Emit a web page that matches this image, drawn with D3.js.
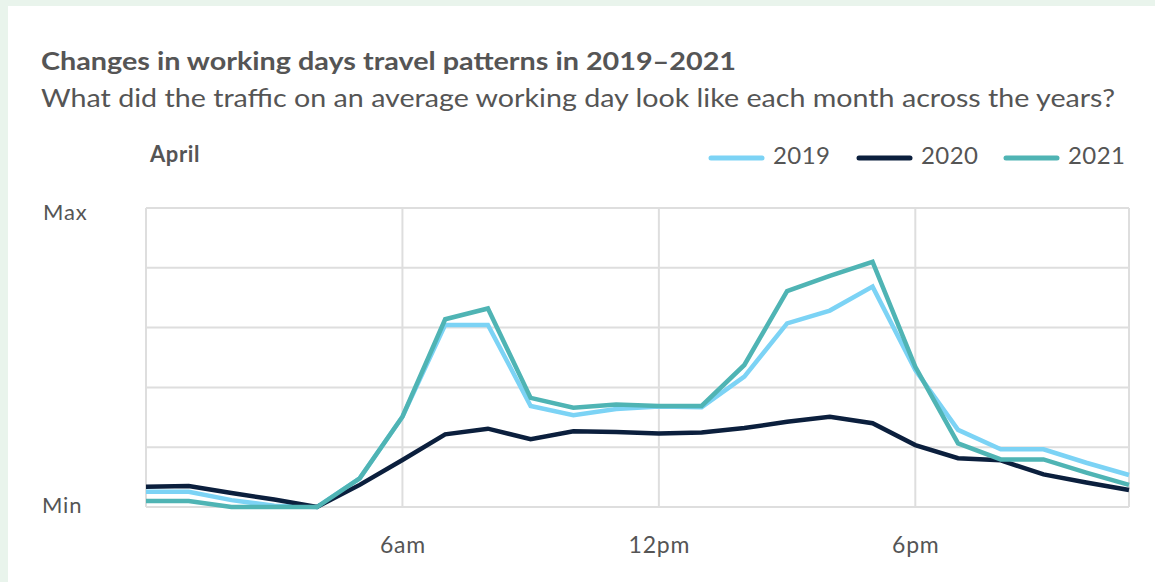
<!DOCTYPE html>
<html>
<head>
<meta charset="utf-8">
<script src="https://cdn.jsdelivr.net/npm/d3@7"></script>
<style>
  html, body { margin: 0; padding: 0; background: #e9f4ec; }
  svg { display: block; }
  text { font-family: Lato, "Open Sans", sans-serif; fill: #555; }
</style>
</head>
<body>
<svg id="chart" width="1155" height="582"></svg>
<script>
// Hours of the day (0 = midnight)
const hours = [0, 1, 2, 3, 4, 5, 6, 7, 8, 9, 10, 11, 12, 13, 14, 15, 16, 17, 18, 19, 20, 21, 22, 23];

// Relative traffic level (0 = Min, 100 = Max) for an average April working day
const traffic2019 = [5.1, 5.1, 2.3, 0.4, 0, 9.6, 30.2, 60.9, 60.9, 33.8, 30.7, 32.8, 33.6, 33.4, 43.6, 61.4, 65.7, 73.7, 45.8, 25.8, 19.3, 19.3, 14.8, 10.7];
const traffic2020 = [6.8, 7.0, 4.7, 2.5, 0, 7.4, 15.7, 24.3, 26.2, 22.7, 25.3, 25.1, 24.6, 24.9, 26.4, 28.5, 30.2, 28.0, 20.7, 16.3, 15.6, 10.9, 8.2, 5.7];
const traffic2021 = [2.0, 2.0, 0, 0, 0, 9.6, 30.2, 62.8, 66.4, 36.5, 33.2, 34.3, 33.8, 33.8, 47.5, 72.2, 77.3, 82.0, 46.9, 21.3, 15.9, 15.9, 11.5, 7.4];

const seriesNames = ["2019", "2020", "2021"];
const seriesColors = ["#7cd3f5", "#0b1f3d", "#4fb4b4"];

const xTickValues = [6, 12, 18];
const xTickLabels = ["6am", "12pm", "6pm"];
const yLabels = ["Min", "Max"];

const titleText = "Changes in working days travel patterns in 2019\u20132021";
const subtitleText = "What did the traffic on an average working day look like each month across the years?";
const monthText = "April";

const series = seriesNames.map((name, i) => ({
  name,
  color: seriesColors[i],
  values: [traffic2019, traffic2020, traffic2021][i]
}));

const svg = d3.select("#chart");

// White card
svg.append("rect")
  .attr("x", 8).attr("y", 6)
  .attr("width", 1155 - 8).attr("height", 582 - 6)
  .attr("fill", "#fff");

// Headings
svg.append("text")
  .attr("x", 41).attr("y", 70)
  .attr("font-size", 25).attr("font-weight", 700)
  .attr("textLength", 695).attr("lengthAdjust", "spacingAndGlyphs")
  .text(titleText);

svg.append("text")
  .attr("x", 41).attr("y", 107)
  .attr("font-size", 25)
  .attr("textLength", 1074).attr("lengthAdjust", "spacingAndGlyphs")
  .text(subtitleText);

svg.append("text")
  .attr("x", 150).attr("y", 162)
  .attr("font-size", 22).attr("font-weight", 700)
  .attr("letter-spacing", 0.6)
  .text(monthText);

// Scales
const x = d3.scaleLinear().domain([0, 23]).range([146, 1129]);
const y = d3.scaleLinear().domain([0, 100]).range([507, 208]);

// Grid
const grid = svg.append("g").attr("stroke", "#dedede").attr("stroke-width", 2);
grid.selectAll("line.h")
  .data(y.ticks(5))
  .join("line")
  .attr("class", "h")
  .attr("x1", x(0)).attr("x2", x(23))
  .attr("y1", d => y(d)).attr("y2", d => y(d));
grid.selectAll("line.v")
  .data([0, ...xTickValues, 23])
  .join("line")
  .attr("class", "v")
  .attr("x1", d => x(d)).attr("x2", d => x(d))
  .attr("y1", y(0)).attr("y2", y(100));

// X axis labels
const xAxis = d3.axisBottom(x)
  .tickValues(xTickValues)
  .tickFormat((d, i) => xTickLabels[i])
  .tickSize(0)
  .tickPadding(0);
const gx = svg.append("g")
  .attr("transform", `translate(0, ${y(0)})`)
  .call(xAxis);
gx.select(".domain").remove();
gx.selectAll("text")
  .attr("y", 46)
  .attr("dy", 0)
  .attr("font-size", 23)
  .attr("letter-spacing", 0.8)
  .attr("font-family", "Lato, 'Open Sans', sans-serif")
  .style("fill", "#555");

// Y end labels
svg.append("text").attr("x", 43).attr("y", y(100) + 12)
  .attr("font-size", 22).attr("letter-spacing", 0.8).text(yLabels[1]);
svg.append("text").attr("x", 42).attr("y", y(0) + 6)
  .attr("font-size", 22).attr("letter-spacing", 0.8).text(yLabels[0]);

// Lines
const line = d3.line()
  .x((d, i) => x(hours[i]))
  .y(d => y(d));

svg.append("g")
  .selectAll("path")
  .data(series)
  .join("path")
  .attr("fill", "none")
  .attr("stroke", d => d.color)
  .attr("stroke-width", 4.5)
  .attr("d", d => line(d.values));

// Legend
const legendX = [711, 859, 1006];
const legend = svg.append("g");
series.forEach((s, i) => {
  legend.append("line")
    .attr("x1", legendX[i]).attr("x2", legendX[i] + 51)
    .attr("y1", 158).attr("y2", 158)
    .attr("stroke", s.color)
    .attr("stroke-width", 5)
    .attr("stroke-linecap", "round");
  legend.append("text")
    .attr("x", legendX[i] + 62).attr("y", 164)
    .attr("font-size", 24)
    .attr("letter-spacing", 0.4)
    .text(s.name);
});
</script>
</body>
</html>
